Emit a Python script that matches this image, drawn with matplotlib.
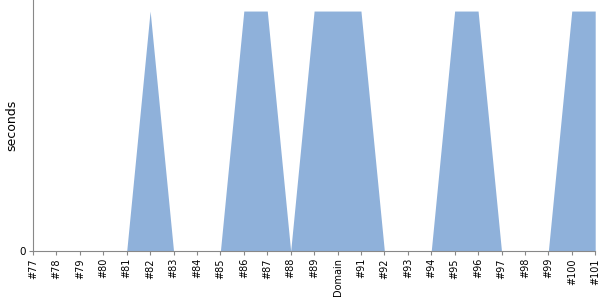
import matplotlib
matplotlib.use("Agg")
import matplotlib.pyplot as plt

labels = ["#77", "#78", "#79", "#80", "#81", "#82", "#83", "#84", "#85", "#86", "#87", "#88",
          "#89", "Domain", "#91", "#92", "#93", "#94", "#95", "#96", "#97", "#98", "#99", "#100", "#101"]
values = [0, 0, 0, 0, 0, 1, 0, 0, 0, 1, 1, 0, 1, 1, 1, 0, 0, 0, 1, 1, 0, 0, 0, 1, 1]

fig = plt.figure(figsize=(6, 3), dpi=100)
ax = fig.add_axes([0.055, 0.163, 0.937, 0.837])
x = list(range(len(labels)))
ax.fill_between(x, values, 0, color="#8fb1da", linewidth=0)
ax.set_xlim(0, len(labels) - 1)
ax.set_ylim(0, 1.046)
ax.set_xticks(x)
ax.set_xticklabels(labels, rotation=90, fontsize=7)
ax.set_yticks([0])
ax.set_yticklabels(["0"], fontsize=7.5)
ax.set_ylabel("seconds", fontsize=9, labelpad=1)
for s in ["top", "right"]:
    ax.spines[s].set_visible(False)
for s in ["left", "bottom"]:
    ax.spines[s].set_color("#888888")
ax.tick_params(axis="both", colors="#888888", labelcolor="black", length=3, pad=2)
fig.savefig("out.png", dpi=100)
